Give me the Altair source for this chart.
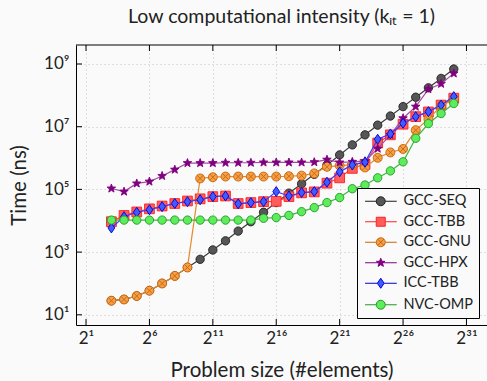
import altair as alt
import pandas as pd

# ---------------- data ----------------
exponents = list(range(3, 31))                      # problem sizes 2^3 .. 2^30
problem_size = [2 ** k for k in exponents]

series_names = ["GCC-SEQ", "GCC-TBB", "GCC-GNU", "GCC-HPX", "ICC-TBB", "NVC-OMP"]

gcc_seq = [28.2, 30.9, 39.8, 58.9, 100, 174, 324, 589, 1170, 2290, 4680, 9330,
           1.86e4, 3.80e4, 7.59e4, 1.51e5, 3.02e5, 6.03e5, 1.26e6, 2.63e6, 5.50e6,
           1.12e7, 2.19e7, 4.37e7, 8.71e7, 1.74e8, 3.47e8, 6.92e8]
gcc_tbb = [9330, 1.48e4, 1.91e4, 2.40e4, 2.95e4, 3.55e4, 4.27e4, 5.01e4, 5.89e4, 6.17e4,
           3.55e4, 3.80e4, 4.07e4, 4.17e4, 5.89e4, 7.76e4, 8.32e4, 1.58e5, 2.34e5, 4.68e5,
           6.31e5, 3.02e6, 5.50e6, 1.20e7, 2.09e7, 2.95e7, 4.90e7, 8.13e7]
gcc_gnu = [28.2, 30.9, 39.8, 58.9, 100, 174, 324, 2.24e5, 2.45e5, 2.57e5, 2.57e5, 2.57e5,
           2.57e5, 2.57e5, 2.63e5, 2.75e5, 3.24e5, 5.25e5, 5.75e5, 6.03e5, 5.01e5, 1.02e6,
           1.51e6, 1.95e6, 7.76e6, 1.74e7, 4.57e7, 7.41e7]
gcc_hpx = [1.07e5, 8.51e4, 1.55e5, 1.78e5, 2.69e5, 4.27e5, 6.92e5, 6.92e5, 6.92e5, 7.08e5,
           7.08e5, 7.08e5, 7.24e5, 7.24e5, 7.24e5, 7.24e5, 7.41e5, 8.91e5, 7.24e5, 7.59e5,
           7.94e5, 2.00e6, 5.50e6, 1.86e7, 4.37e7, 1.58e8, 2.34e8, 5.01e8]
icc_tbb = [5890, 1.35e4, 1.86e4, 2.24e4, 2.82e4, 3.55e4, 4.07e4, 4.68e4, 5.89e4, 6.17e4,
           3.47e4, 3.80e4, 4.07e4, 8.51e4, 6.17e4, 7.94e4, 8.51e4, 1.70e5, 3.63e5, 6.03e5,
           7.41e5, 3.98e6, 5.89e6, 1.29e7, 2.09e7, 3.02e7, 4.90e7, 9.12e7]
nvc_omp = [1.05e4, 1.05e4, 1.05e4, 1.05e4, 1.05e4, 1.05e4, 1.05e4, 1.05e4, 1.05e4, 1.05e4,
           1.05e4, 1.05e4, 1.20e4, 1.26e4, 1.48e4, 1.95e4, 2.63e4, 3.80e4, 5.50e4, 1.05e5,
           1.38e5, 2.34e5, 3.89e5, 7.59e5, 4.27e6, 1.26e7, 2.63e7, 5.50e7]

series_values = [gcc_seq, gcc_tbb, gcc_gnu, gcc_hpx, icc_tbb, nvc_omp]

x_tick_values = [2 ** 1, 2 ** 6, 2 ** 11, 2 ** 16, 2 ** 21, 2 ** 26, 2 ** 31]
x_tick_labels = ["2¹", "2⁶", "2¹¹", "2¹⁶", "2²¹", "2²⁶", "2³¹"]
y_tick_values = [10, 1e3, 1e5, 1e7, 1e9]
y_tick_labels = ["10¹", "10³", "10⁵", "10⁷", "10⁹"]

title_text = "Low computational intensity (kᵢₜ = 1)"
x_title = "Problem size (#elements)"
y_title = "Time (ns)"

# ---------------- styles ----------------
FONT = "Lato"
TXT = "#222222"
BG = "#fafafa"
line_colors = ["#3c3c3c", "#ff3a3a", "#e58a2e", "#a44ca4", "#3a3aff", "#3cb83c"]
fill_colors = ["#565656", "#ff5c5c", "#f3a048", "#800080", "#3f5cff", "#5cec5c"]
stroke_colors = ["#1e1e1e", "#ff2020", "#c8640a", "#800080", "#0000d0", "#239a23"]


def star(cx, r):
    import math
    pts = []
    for i in range(10):
        ang = math.radians(-90 + 36 * i)
        rr = r if i % 2 == 0 else r * 0.42
        pts.append((cx + rr * math.cos(ang), rr * math.sin(ang)))
    return "M" + "L".join(f"{x:.3f},{y:.3f}" for x, y in pts) + "Z"


def circle(cx, r):
    return (f"M{cx + r:.3f},0A{r},{r},0,1,1,{cx - r:.3f},0"
            f"A{r},{r},0,1,1,{cx + r:.3f},0Z")


def square(cx, h):
    return (f"M{cx - h:.3f},{-h}L{cx + h:.3f},{-h}L{cx + h:.3f},{h}"
            f"L{cx - h:.3f},{h}Z")


def diamond(cx, hw, hh):
    return f"M{cx:.3f},{-hh}L{cx + hw:.3f},0L{cx:.3f},{hh}L{cx - hw:.3f},0Z"


def cross(cx, d):
    return (f"M{cx - d:.3f},{-d}L{cx + d:.3f},{d}"
            f"M{cx - d:.3f},{d}L{cx + d:.3f},{-d}")


# plot markers (unit coordinates)
plot_shapes = ["circle", "square", circle(0, 1) + cross(0, 0.7), star(0, 1),
               diamond(0, 0.68, 1), "circle"]
plot_sizes = [70, 95, 81, 80, 100, 70]

# legend symbols: line + marker (unit = 5px)
C = 2.1
L0, L1 = -1.04, 5.3
def with_line(marker, gap):
    return f"M{L0},0L{C - gap:.2f},0M{C + gap:.2f},0L{L1},0" + marker

legend_shapes = [
    with_line(circle(C, 0.9), 0.9),
    with_line(square(C, 0.9), 0.9),
    with_line(circle(C, 0.9) + cross(C, 0.63), 0.9),
    with_line(star(C, 0.9), 0.5),
    with_line(diamond(C, 0.68, 1.0), 0.68),
    with_line(circle(C, 0.9), 0.9),
]

# ---------------- table ----------------
rows = []
for name, vals in zip(series_names, series_values):
    for n, t in zip(problem_size, vals):
        rows.append({"n": n, "time": t, "series": name})
df = pd.DataFrame(rows)

W, H = 411, 280


def label_expr(values, labels):
    expr = "''"
    for v, l in reversed(list(zip(values, labels))):
        expr = f"datum.value == {v!r} ? '{l}' : ({expr})"
    return expr


x_scale = alt.Scale(type="log", base=2, domain=[2 ** 0.21, 2 ** 32.62], nice=False)
y_scale = alt.Scale(type="log", domain=[10 ** 0.675, 10 ** 9.606], nice=False)

x_axis = alt.Axis(values=x_tick_values, labelExpr=label_expr(x_tick_values, x_tick_labels),
                  grid=True, ticks=False, tickSize=0, labelPadding=5, labelFlush=False,
                  labelOverlap=False, title=x_title, titleX=W / 2, titleY=45,
                  titleBaseline="middle", titleAlign="center")
y_axis = alt.Axis(values=y_tick_values, labelExpr=label_expr(y_tick_values, y_tick_labels),
                  grid=True, ticks=False, tickSize=0, labelPadding=7, labelFlush=False,
                  labelOverlap=False, title=y_title, titleX=-57, titleY=H / 2,
                  titleAngle=270, titleBaseline="middle", titleAlign="center")

x_enc = alt.X("n:Q", scale=x_scale, axis=x_axis)
y_enc = alt.Y("time:Q", scale=y_scale, axis=y_axis)

layers = []
for i, name in enumerate(series_names):
    base = alt.Chart(df).transform_filter(alt.datum.series == name)
    layers.append(base.mark_line(color=line_colors[i], strokeWidth=1.2)
                  .encode(x=x_enc, y=y_enc))
    layers.append(base.mark_point(filled=True, opacity=1, fill=fill_colors[i],
                                  stroke=stroke_colors[i], strokeWidth=0.9,
                                  shape=plot_shapes[i], size=plot_sizes[i])
                  .encode(x=x_enc, y=y_enc))

# inner ticks and top frame line
xt = pd.DataFrame({"n": x_tick_values})
yt = pd.DataFrame({"time": y_tick_values})
layers.append(alt.Chart(xt).mark_rule(color="black", strokeWidth=1)
              .encode(x=x_enc, y=alt.value(H), y2=alt.value(H - 6)))
layers.append(alt.Chart(xt).mark_rule(color="black", strokeWidth=1)
              .encode(x=x_enc, y=alt.value(0), y2=alt.value(6)))
layers.append(alt.Chart(yt).mark_rule(color="black", strokeWidth=1)
              .encode(y=y_enc, x=alt.value(0), x2=alt.value(6)))
layers.append(alt.Chart(alt.Data(values=[{"a": 0}])).mark_rule(color="black", strokeWidth=1)
              .encode(y=alt.value(0)))

# legend (library legend, no drawn data)
leg = alt.Legend(title=None, orient="none", legendX=281, legendY=143, padding=6,
                 strokeColor="black", fillColor=BG, symbolSize=100,
                 symbolStrokeWidth=1, labelFont=FONT, labelFontSize=14.5,
                 labelColor=TXT, labelAlign="left", labelOffset=26, rowPadding=5.5)
legend_layer = (alt.Chart(df).transform_filter("false")
                .mark_point(filled=True, opacity=1, strokeWidth=1)
                .encode(shape=alt.Shape("series:N", scale=alt.Scale(domain=series_names, range=legend_shapes), legend=leg),
                        fill=alt.Fill("series:N", scale=alt.Scale(domain=series_names, range=fill_colors), legend=leg),
                        stroke=alt.Stroke("series:N", scale=alt.Scale(domain=series_names, range=stroke_colors), legend=leg)))
layers.append(legend_layer)

chart = (alt.layer(*layers)
         .properties(width=W, height=H,
                     title=alt.Title(title_text, font=FONT, fontSize=19.5, fontWeight="normal",
                                     color=TXT, anchor="middle", offset=17),
                     padding={"left": 76, "top": 45, "right": 0, "bottom": 56},
                     autosize=alt.AutoSizeParams(type="none"),
                     background=BG)
         .configure_view(stroke=None)
         .configure_axis(labelFont=FONT, labelFontSize=17, labelColor=TXT,
                         titleFont=FONT, titleFontSize=20.5, titleFontWeight="normal",
                         titleColor=TXT, domainColor="black", domainWidth=1,
                         gridColor="#c4c4c4", gridDash=[1, 3], gridWidth=1))

chart.save("out.html", embed_options={"renderer": "svg", "actions": False})
